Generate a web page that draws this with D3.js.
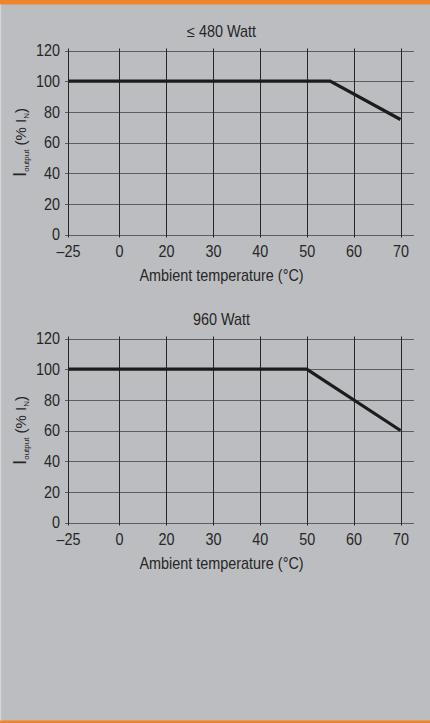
<!DOCTYPE html>
<html>
<head>
<meta charset="utf-8">
<style>
    body { margin: 0; background: #bcbdc0; }
    svg { display: block; }
    text { font-family: 'Liberation Sans', Arial, sans-serif; }
    .axis .domain { display: none; }
    .axis .tick line { display: none; }
    .axis .tick text { font-family: 'Liberation Sans', Arial, sans-serif; font-size: 16.5px; fill: #262626; }
    .title, .axis-label { font-size: 16px; fill: #262626; }
    .hgrid { stroke: #5e5e5e; stroke-width: 1; }
    .vgrid { stroke: #262626; stroke-width: 1; }
    .curve { fill: none; stroke: #1c1c1c; stroke-width: 3.2; stroke-linejoin: miter; }
</style>
</head>
<body>
<svg width="430" height="723"></svg>
<script src="https://d3js.org/d3.v7.min.js"></script>
<script>
    // data
    const xTicks = [-25, 0, 20, 30, 40, 50, 60, 70];
    const yTicks = [0, 20, 40, 60, 80, 100, 120];
    const titles = ["\u2264 480 Watt", "960 Watt"];
    const temps480 = [-25, 55, 70];
    const output480 = [100, 100, 75];
    const temps960 = [-25, 50, 70];
    const output960 = [100, 100, 60];

    let width = 430, height = 723;
    let svg = d3.select("svg");

    // frame
    svg.append("rect").attr("width", width).attr("height", height).attr("fill", "#bcbdc0");
    svg.append("rect").attr("width", width).attr("height", 4.5).attr("fill", "#f0842a");
    svg.append("rect").attr("y", 720.5).attr("width", width).attr("height", 3).attr("fill", "#f0842a");
    svg.append("rect").attr("y", 4.5).attr("width", 1.2).attr("height", 716).attr("fill", "#d4d5d7");

    let left = 68, right = 414;
    let digitSqueeze = 0.87, textSqueeze = 0.9; // fake a condensed face

    // the x axis is not uniform: -25..0 gets a slightly wider step
    let xScale = d3.scaleLinear()
        .domain([-25, 0, 20, 70])
        .range([68, 119, 166, 400.5]);

    function drawChart(offset, title, temps, values) {
        let g = svg.append("g").attr("transform", `translate(0,${offset})`);

        let yScale = d3.scaleLinear().domain([0, 120]).range([234.5, 50.5]);

        g.append("text")
            .attr("class", "title")
            .attr("transform", `translate(221.5,36.7) scale(${textSqueeze},1)`)
            .attr("text-anchor", "middle")
            .text(title);

        g.selectAll(".hgrid")
            .data(yTicks)
            .enter().append("line")
            .attr("class", "hgrid")
            .attr("x1", left - 3)
            .attr("x2", right)
            .attr("y1", d => Math.round(yScale(d)) + 0.5)
            .attr("y2", d => Math.round(yScale(d)) + 0.5);

        g.selectAll(".vgrid")
            .data(xTicks)
            .enter().append("line")
            .attr("class", "vgrid")
            .attr("x1", d => Math.round(xScale(d)) + 0.5)
            .attr("x2", d => Math.round(xScale(d)) + 0.5)
            .attr("y1", yScale(120) - 2)
            .attr("y2", yScale(0) + 3);

        let yAxis = d3.axisLeft(yScale)
            .tickValues(yTicks)
            .tickSize(0)
            .tickPadding(8 / digitSqueeze);

        let xAxis = d3.axisBottom(xScale)
            .tickValues(xTicks)
            .tickSize(0)
            .tickPadding(11)
            .tickFormat(d => d < 0 ? "\u2013" + Math.abs(d) : d);

        g.append("g")
            .attr("class", "y axis")
            .attr("transform", `translate(${left},0)`)
            .call(yAxis)
            .attr("font-family", null)
            .selectAll("text").attr("transform", `scale(${digitSqueeze},1)`);

        g.append("g")
            .attr("class", "x axis")
            .attr("transform", `translate(0,${yScale(0)})`)
            .call(xAxis)
            .attr("font-family", null)
            .selectAll("text").attr("transform", `scale(${digitSqueeze},1)`);

        g.append("text")
            .attr("class", "axis-label")
            .attr("transform", `translate(221.5,280.7) scale(${textSqueeze},1)`)
            .attr("text-anchor", "middle")
            .text("Ambient temperature (\u00b0C)");

        // rotated y label with subscripts
        let yl = g.append("text")
            .attr("class", "axis-label")
            .style("font-size", "15px")
            .attr("transform", `translate(26,${yScale(60)}) rotate(-90)`)
            .attr("text-anchor", "middle");
        yl.append("tspan").style("font-size", "19px").text("I");
        yl.append("tspan").style("font-size", "8px").attr("dy", 3).text("output");
        yl.append("tspan").attr("dy", -3).text(" (% I");
        yl.append("tspan").style("font-size", "8px").attr("dy", 3).text("N");
        yl.append("tspan").attr("dy", -3).text(")");

        let pts = temps.map((t, i) => [t, values[i]]);
        let line = d3.line()
            .x(d => xScale(d[0]))
            .y(d => yScale(d[1]));

        g.append("path")
            .datum(pts)
            .attr("class", "curve")
            .attr("d", line);
    }

    drawChart(0, titles[0], temps480, output480);
    drawChart(288, titles[1], temps960, output960);
</script>
</body>
</html>
